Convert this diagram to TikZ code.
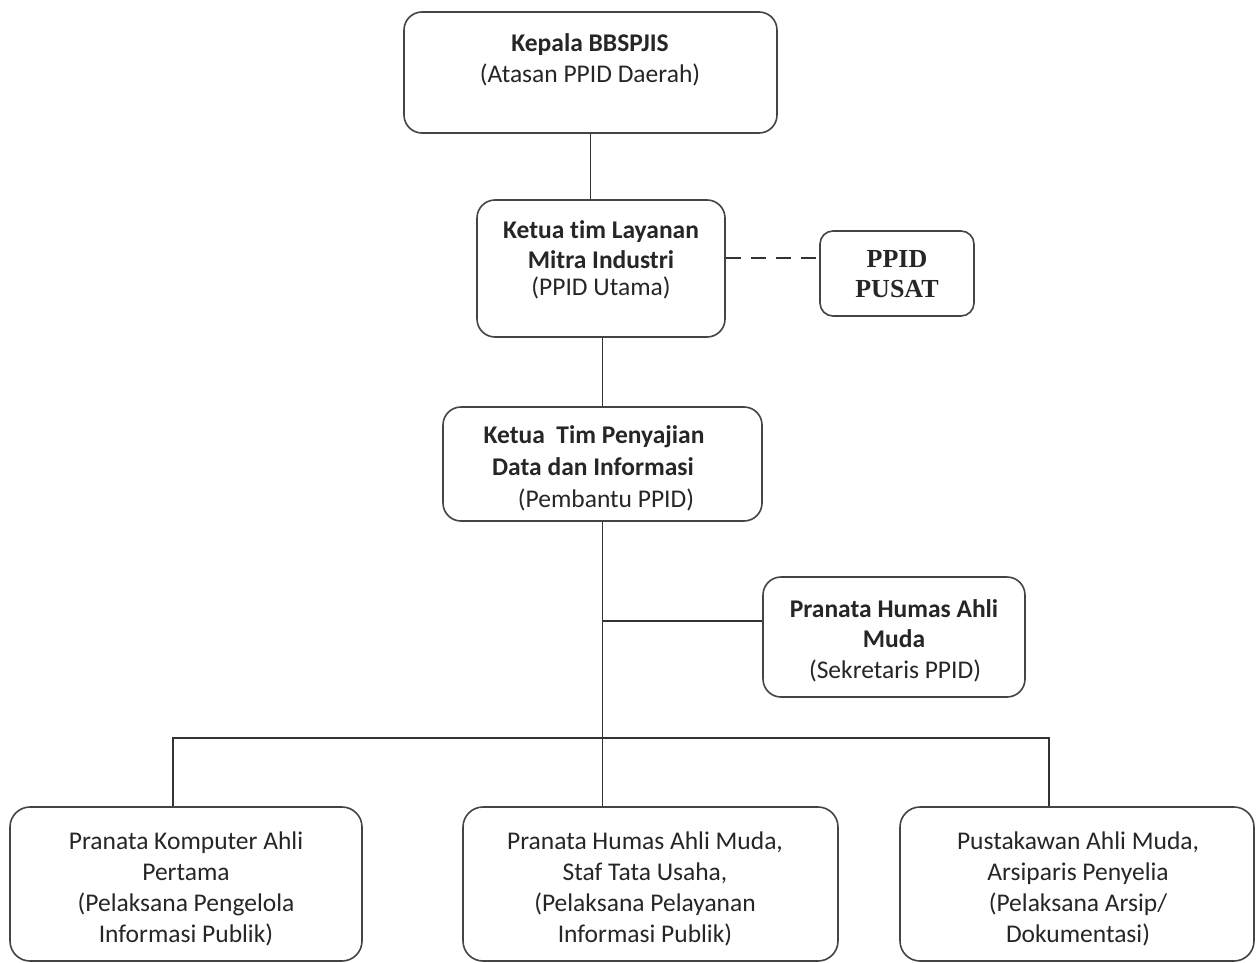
\documentclass[tikz,border=0pt]{standalone}
\usepackage{fontspec}
\setmainfont{Carlito}[Ligatures={NoCommon}]
\newfontfamily\tnr{Liberation Serif}
\usetikzlibrary{calc}
\definecolor{linec}{HTML}{333333}
\definecolor{boxc}{HTML}{444444}
\definecolor{txtc}{HTML}{262626}
\tikzset{
  box/.style={draw=boxc, line width=1.6pt, rounded corners=18pt, rectangle, inner sep=0pt, fill=white},
  conn/.style={draw=linec, line width=1.9pt},
  tl/.style={inner sep=0pt, anchor=base, text=txtc, font=\fontsize{25.5}{30}\selectfont},
  tb/.style={tl, font=\fontsize{25.5}{30}\selectfont\bfseries},
  tt/.style={inner sep=0pt, anchor=base, text=txtc, font=\tnr\fontsize{26}{30}\selectfont\bfseries},
}
\begin{document}
\begin{tikzpicture}[x=1pt,y=-1pt]
\useasboundingbox[fill=white] (0,0) rectangle (1260,963);
% boxes
\node[box, minimum width=373pt, minimum height=121pt] (kepala) at (590.5,72.5) {};
\node[box, minimum width=248pt, minimum height=137pt] (ketua) at (601,268.5) {};
\node[box, rounded corners=13pt, minimum width=154pt, minimum height=85pt] (pusat) at (897,273.5) {};
\node[box, minimum width=319pt, minimum height=114pt] (penyaji) at (602.5,464) {};
\node[box, minimum width=262pt, minimum height=120pt] (sek) at (894,637) {};
\node[box, rounded corners=20pt, minimum width=352pt, minimum height=154pt] (left) at (186,884) {};
\node[box, rounded corners=20pt, minimum width=375pt, minimum height=154pt] (mid) at (650.5,884) {};
\node[box, rounded corners=20pt, minimum width=354pt, minimum height=154pt] (right) at (1077,884) {};
% helper coordinates
\coordinate (dashy) at (760,258);
\coordinate (sj) at (602.5,621);
\coordinate (bl) at (173,738);
\coordinate (br) at (1049,738);
% connectors
\draw[conn] (kepala.south) -- (kepala.south |- ketua.north);
\draw[conn] (penyaji.north |- ketua.south) -- (penyaji.north);
\draw[conn, dash pattern=on 15pt off 10pt] (ketua.east |- dashy) -- (pusat.west |- dashy);
\draw[conn] (penyaji.south) -- (penyaji.south |- mid.north);
\draw[conn] (sj) -- (sek.west |- sj);
\draw[conn] (left.north -| bl) -- (bl) -- (br) -- (right.north -| br);
% texts
\node[tb] (k1) at (590,52) {Kepala BBSPJIS};
\node[tl] (k2) at (590,83) {(Atasan PPID Daerah)};
\node[tb] (u1) at (601,238) {Ketua tim Layanan};
\node[tb] (u2) at (601,268) {Mitra Industri};
\node[tl] (u3) at (601,295) {(PPID Utama)};
\node[tt] (p1) at (897,267) {PPID};
\node[tt] (p2) at (897,297) {PUSAT};
\node[tb] (s1) at (594,443) {Ketua\ \ Tim Penyajian};
\node[tb] (s2) at (593,475) {Data dan Informasi};
\node[tl] (s3) at (606,507) {(Pembantu PPID)};
\node[tb] (h1) at (894,617) {Pranata Humas Ahli};
\node[tb] (h2) at (894,647) {Muda};
\node[tl] (h3) at (895,678) {(Sekretaris PPID)};
\node[tl] (a1) at (186,849) {Pranata Komputer Ahli};
\node[tl] (a2) at (186,880) {Pertama};
\node[tl] (a3) at (186,911) {(Pelaksana Pengelola};
\node[tl] (a4) at (186,942) {Informasi Publik)};
\node[tl] (b1) at (645,849) {Pranata Humas Ahli Muda,};
\node[tl] (b2) at (645,880) {Staf Tata Usaha,};
\node[tl] (b3) at (645,911) {(Pelaksana Pelayanan};
\node[tl] (b4) at (645,942) {Informasi Publik)};
\node[tl] (c1) at (1078,849) {Pustakawan Ahli Muda,};
\node[tl] (c2) at (1078,880) {Arsiparis Penyelia};
\node[tl] (c3) at (1078,911) {(Pelaksana Arsip/};
\node[tl] (c4) at (1078,942) {Dokumentasi)};
\end{tikzpicture}
\end{document}
